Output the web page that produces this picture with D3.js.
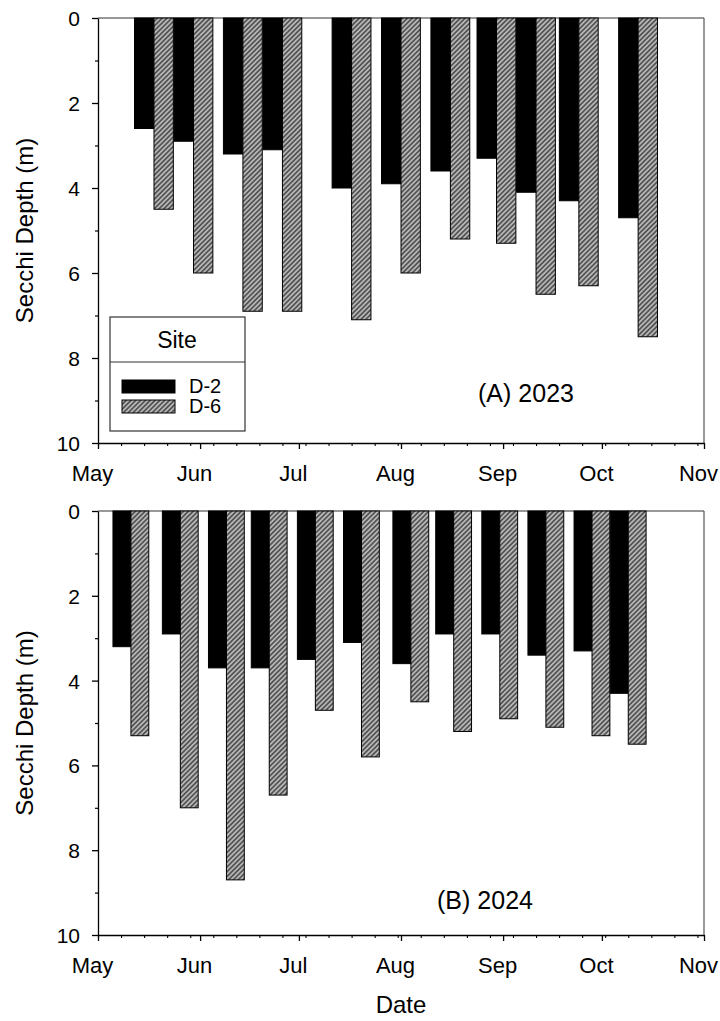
<!DOCTYPE html>
<html>
<head>
<meta charset="utf-8">
<script src="https://cdn.jsdelivr.net/npm/d3@7"></script>
<style>
  body { margin: 0; background: #fff; }
  text { font-family: 'Liberation Sans', Arial, sans-serif; fill: #000; }
</style>
</head>
<body>
<svg id="chart" width="720" height="1021"></svg>
<script>
// sampling dates and Secchi depths (m)
const dates2023 = ['2023-05-18', '2023-05-30', '2023-06-14', '2023-06-26', '2023-07-17', '2023-08-01',
    '2023-08-16', '2023-08-30', '2023-09-11', '2023-09-24', '2023-10-12'];
const d2Depth2023 = [2.6, 2.9, 3.2, 3.1, 4.0, 3.9, 3.6, 3.3, 4.1, 4.3, 4.7];
const d6Depth2023 = [4.5, 6.0, 6.9, 6.9, 7.1, 6.0, 5.2, 5.3, 6.5, 6.3, 7.5];

const dates2024 = ['2024-05-11', '2024-05-26', '2024-06-09', '2024-06-22', '2024-07-06', '2024-07-20',
    '2024-08-04', '2024-08-17', '2024-08-31', '2024-09-14', '2024-09-28', '2024-10-09'];
const d2Depth2024 = [3.2, 2.9, 3.7, 3.7, 3.5, 3.1, 3.6, 2.9, 2.9, 3.4, 3.3, 4.3];
const d6Depth2024 = [5.3, 7.0, 8.7, 6.7, 4.7, 5.8, 4.5, 5.2, 4.9, 5.1, 5.3, 5.5];

const sites = ['D-2', 'D-6'];
const depthTicks = [0, 2, 4, 6, 8, 10];
const depthMinorTicks = [1, 3, 5, 7, 9];

const parseDate = d3.timeParse('%Y-%m-%d');
const svg = d3.select('#chart');

const left = 98;
const right = 704;

const defs = svg.append('defs');
const hatch = defs.append('pattern')
    .attr('id', 'hatch')
    .attr('patternUnits', 'userSpaceOnUse')
    .attr('width', 3.4)
    .attr('height', 3.4)
    .attr('patternTransform', 'rotate(45)');
hatch.append('rect')
    .attr('width', 3.4)
    .attr('height', 3.4)
    .attr('fill', '#b6b6b6');
hatch.append('line')
    .attr('x1', 1.7).attr('y1', 0)
    .attr('x2', 1.7).attr('y2', 3.4)
    .attr('stroke', '#1e1e1e')
    .attr('stroke-width', 1.1);

const siteFill = d3.scaleOrdinal()
    .domain(sites)
    .range(['#000', 'url(#hatch)']);

function drawPanel(year, dates, d2, d6, top, bottom, barDays, label, labelX, labelY) {
    const start = new Date(year, 4, 1);
    const end = new Date(year, 10, 1);

    const xScale = d3.scaleTime()
        .domain([start, end])
        .range([left, right]);

    const yScale = d3.scaleLinear()
        .domain([0, 10])
        .range([top, bottom]);

    const g = svg.append('g');

    // frame (top and right edges)
    g.append('line')
        .attr('x1', left).attr('y1', top)
        .attr('x2', right).attr('y2', top)
        .attr('stroke', '#333').attr('stroke-width', 1.2);
    g.append('line')
        .attr('x1', right).attr('y1', top)
        .attr('x2', right).attr('y2', bottom)
        .attr('stroke', '#555').attr('stroke-width', 1.2);

    const rows = dates.map((d, i) => ({date: parseDate(d), d2: d2[i], d6: d6[i]}));

    const bars = g.selectAll('.pair')
        .data(rows)
        .enter()
        .append('g')
        .attr('class', 'pair');

    sites.forEach((site, k) => {
        bars.append('rect')
            .attr('x', r => xScale(d3.timeHour.offset(r.date, (k - 1) * barDays * 24)))
            .attr('y', yScale(0))
            .attr('width', r => xScale(d3.timeHour.offset(r.date, barDays * 24)) - xScale(r.date))
            .attr('height', r => yScale(k === 0 ? r.d2 : r.d6) - yScale(0))
            .attr('fill', siteFill(site))
            .attr('stroke', '#000')
            .attr('stroke-width', 1);
    });

    // y axis
    g.append('g')
        .attr('transform', `translate(${left}, 0)`)
        .call(d3.axisLeft(yScale)
            .tickValues(depthTicks)
            .tickSize(6)
            .tickSizeOuter(0)
            .tickPadding(12))
        .call(ax => ax.selectAll('text').attr('font-size', 21).attr('dy', '0.36em'))
        .call(ax => ax.selectAll('line, path').attr('stroke-width', 1.3));

    g.append('g')
        .attr('transform', `translate(${left}, 0)`)
        .call(d3.axisLeft(yScale)
            .tickValues(depthMinorTicks)
            .tickSize(3)
            .tickFormat(''))
        .call(ax => ax.select('.domain').remove())
        .call(ax => ax.selectAll('line').attr('stroke-width', 1.2));

    // x axis: months plus weekly minor ticks
    g.append('g')
        .attr('transform', `translate(0, ${bottom})`)
        .call(d3.axisBottom(xScale)
            .tickValues(d3.timeMonths(start, d3.timeDay.offset(end, 1)))
            .tickFormat(d3.timeFormat('%b'))
            .tickSize(6)
            .tickSizeOuter(0)
            .tickPadding(16))
        .call(ax => ax.selectAll('text').attr('font-size', 22).attr('dx', -6))
        .call(ax => ax.selectAll('line, path').attr('stroke-width', 1.3));

    const weeks = d3.range(0, 185, 7).map(n => d3.timeDay.offset(start, n));
    g.append('g')
        .attr('transform', `translate(0, ${bottom})`)
        .call(d3.axisBottom(xScale)
            .tickValues(weeks)
            .tickSize(3)
            .tickFormat(''))
        .call(ax => ax.select('.domain').remove())
        .call(ax => ax.selectAll('line').attr('stroke-width', 1.1));

    g.append('text')
        .attr('transform', `translate(33, ${(top + bottom) / 2}) rotate(-90)`)
        .attr('text-anchor', 'middle')
        .attr('font-size', 24)
        .text('Secchi Depth (m)');

    g.append('text')
        .attr('x', labelX)
        .attr('y', labelY)
        .attr('text-anchor', 'middle')
        .attr('font-size', 25)
        .text(label);
}

drawPanel(2023, dates2023, d2Depth2023, d6Depth2023, 18, 443, 5.9, '(A) 2023', 526, 402);
drawPanel(2024, dates2024, d2Depth2024, d6Depth2024, 511, 935, 5.45, '(B) 2024', 485, 909);

// legend
const legend = svg.append('g');
legend.append('rect')
    .attr('x', 110).attr('y', 317)
    .attr('width', 135).attr('height', 114)
    .attr('fill', '#fff')
    .attr('stroke', '#333')
    .attr('stroke-width', 1.2);
legend.append('line')
    .attr('x1', 110).attr('y1', 362)
    .attr('x2', 245).attr('y2', 362)
    .attr('stroke', '#333')
    .attr('stroke-width', 1.2);
legend.append('text')
    .attr('x', 177)
    .attr('y', 348)
    .attr('text-anchor', 'middle')
    .attr('font-size', 23)
    .text('Site');

sites.forEach((site, i) => {
    legend.append('rect')
        .attr('x', 122).attr('y', 380 + i * 20)
        .attr('width', 53).attr('height', 13)
        .attr('fill', siteFill(site))
        .attr('stroke', '#000')
        .attr('stroke-width', 1);
    legend.append('text')
        .attr('x', 189)
        .attr('y', 393 + i * 20)
        .attr('font-size', 20)
        .text(site);
});

svg.append('text')
    .attr('x', 401)
    .attr('y', 1013)
    .attr('text-anchor', 'middle')
    .attr('font-size', 24)
    .text('Date');
</script>
</body>
</html>
